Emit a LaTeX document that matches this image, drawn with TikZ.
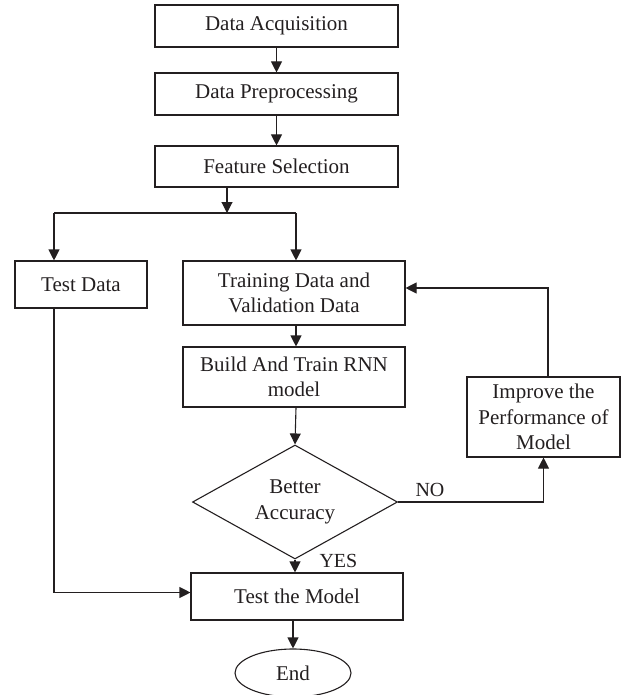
\documentclass[tikz,border=0pt]{standalone}
\usepackage{fontspec}
\setmainfont{Liberation Serif}
\usetikzlibrary{shapes.geometric,arrows.meta,calc}
\definecolor{ink}{HTML}{231F20}
\begin{document}
\begin{tikzpicture}[x=1pt,y=-1pt,
  every node/.style={text=ink,font=\fontsize{21}{25.5}\selectfont},
  box/.style={draw=ink,line width=1.1pt,rectangle,inner sep=0pt,align=center},
  decision/.style={draw=ink,line width=1.1pt,diamond,inner sep=0pt,align=center,
    minimum width=205pt,minimum height=114pt,shape aspect=1.8},
  terminal/.style={draw=ink,line width=1.1pt,ellipse,inner sep=0pt,
    minimum width=116pt,minimum height=48pt},
  link/.style={draw=ink,line width=1.1pt},
  arr/.style={link,-{Triangle[length=11pt,width=11pt]}},
  tag/.style={font=\fontsize{20}{22}\selectfont}]
\useasboundingbox (0,0) rectangle (622,695);

% process steps
\node[box,minimum width=243pt,minimum height=42pt] (acq)  at (276.5,26)  {Data Acquisition};
\node[box,minimum width=243pt,minimum height=42pt] (pre)  at (276.5,94)  {Data Preprocessing};
\node[box,minimum width=243pt,minimum height=41pt] (feat) at (276.5,166.5) {Feature Selection};
\node[box,minimum width=132pt,minimum height=47pt] (test) at (81,284.5) {Test Data};
\node[box,minimum width=222pt,minimum height=64pt] (train) at (294,293) {Training Data and\\Validation Data};
\node[box,minimum width=222pt,minimum height=60pt] (build) at (294,377) {Build And Train RNN\\model};
\node[box,minimum width=153pt,minimum height=80pt] (imp) at (543.5,417) {Improve the\\Performance of\\Model};
\node[decision] (dec) at (295,502) {Better\\Accuracy};
\node[box,minimum width=212pt,minimum height=47pt] (tm) at (297,596.5) {Test the Model};
\node[terminal] (end) at (293,673) {End};

% branch points
\coordinate (split) at (227,213);
\coordinate (lb) at (54,213);
\coordinate (rb) at (296,213);
\coordinate (fb) at (548,288);

% connectors
\draw[arr] (acq) -- (pre);
\draw[arr] (pre) -- (feat);
\draw[arr] (feat.south -| split) -- (split);
\draw[link] (lb) -- (rb);
\draw[arr] (lb) -- (lb |- test.north);
\draw[arr] (rb) -- (rb |- train.north);
\draw[arr] (train.south -| rb) -- (rb |- build.north);
\draw[arr] (build.south -| rb) -- (dec.north);
\draw[arr] (dec.south) -- (dec.south |- tm.north);
\draw[arr] (tm.south -| end.north) -- (end.north);
\draw[arr] (dec.east) -| (imp.south);
\draw[arr] (imp.north -| fb) -- (fb) -- (fb -| train.east);
\draw[arr] (lb |- test.south) |- ($(tm.west)+(0,-4)$);

% decision labels
\node[tag,anchor=base west] (no) at (412,496) {NO};
\node[tag,anchor=base west] (yes) at (316,567) {YES};
\end{tikzpicture}
\end{document}
